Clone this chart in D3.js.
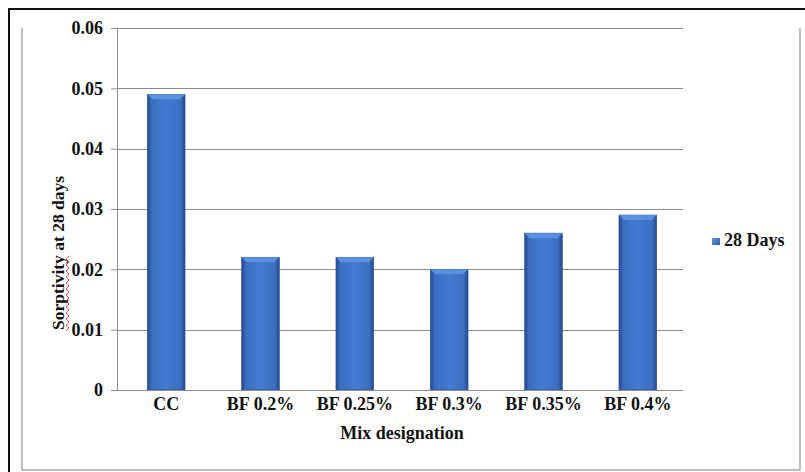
<!DOCTYPE html>
<html>
<head>
<meta charset="utf-8">
<script src="https://cdn.jsdelivr.net/npm/d3@7"></script>
<style>
  body { margin: 0; background: #fff; }
  svg { display: block; font-family: "Liberation Serif", "Times New Roman", serif; }
</style>
</head>
<body>
<div id="chart"></div>
<script>
// data
var categories = ["CC", "BF 0.2%", "BF 0.25%", "BF 0.3%", "BF 0.35%", "BF 0.4%"];
var values = [0.049, 0.022, 0.022, 0.020, 0.026, 0.029];
var yTicks = [0, 0.01, 0.02, 0.03, 0.04, 0.05, 0.06];
var seriesName = "28 Days";

var W = 805, H = 472;
var plot = {left: 119, right: 685, top: 28, bottom: 390};

var svg = d3.select("#chart").append("svg")
  .attr("width", W).attr("height", H);

var defs = svg.append("defs");
var grad = defs.append("linearGradient").attr("id", "barGrad")
  .attr("x1", "0%").attr("x2", "100%").attr("y1", "0%").attr("y2", "0%");
grad.append("stop").attr("offset", "0%").attr("stop-color", "#23498a");
grad.append("stop").attr("offset", "12%").attr("stop-color", "#3b6ec2");
grad.append("stop").attr("offset", "50%").attr("stop-color", "#447bd0");
grad.append("stop").attr("offset", "88%").attr("stop-color", "#3b6ec2");
grad.append("stop").attr("offset", "100%").attr("stop-color", "#23498a");

var legGrad = defs.append("linearGradient").attr("id", "legGrad")
  .attr("x1", "0%").attr("x2", "100%").attr("y1", "0%").attr("y2", "100%");
legGrad.append("stop").attr("offset", "0%").attr("stop-color", "#6c9be0");
legGrad.append("stop").attr("offset", "100%").attr("stop-color", "#2b58a0");

// outer frames
svg.append("path").attr("d", "M9,472 V9 H805")
  .attr("fill", "none").attr("stroke", "#111").attr("stroke-width", 2);
svg.append("path").attr("d", "M22,28 V470 H800 V28")
  .attr("fill", "none").attr("stroke", "#a8a8a8").attr("stroke-width", 1.5);

var x = d3.scaleBand().domain(categories)
  .range([plot.left, plot.right]).paddingInner(0.6).paddingOuter(0.3);
var y = d3.scaleLinear().domain([0, 0.06]).range([plot.bottom, plot.top]);

// gridlines
svg.append("g").selectAll("line").data(yTicks.slice(1)).enter().append("line")
  .attr("x1", plot.left - 2).attr("x2", plot.right - 2)
  .attr("y1", function(d) { return Math.round(y(d)) + 0.5; })
  .attr("y2", function(d) { return Math.round(y(d)) + 0.5; })
  .attr("stroke", "#8c8c8c").attr("stroke-width", 1);

// bars
var bars = svg.append("g").selectAll("g.bar").data(values).enter().append("g")
  .attr("class", "bar");
bars.append("rect")
  .attr("x", function(d, i) { return x(categories[i]); })
  .attr("y", function(d) { return y(d); })
  .attr("width", x.bandwidth())
  .attr("height", function(d) { return plot.bottom - y(d); })
  .attr("fill", "url(#barGrad)")
  .attr("stroke", "#2a4f8f").attr("stroke-width", 0.6);
// top bevel
bars.append("path")
  .attr("d", function(d, i) {
    var x0 = x(categories[i]), x1 = x0 + x.bandwidth(), y0 = y(d);
    return "M" + x0 + "," + y0 + " H" + x1 + " L" + (x1 - 5) + "," + (y0 + 5) +
      " H" + (x0 + 5) + " Z";
  })
  .attr("fill", "#5e93e0").attr("opacity", 0.9);

// y axis
var yAxis = d3.axisLeft(y).tickValues(yTicks).tickSize(6).tickPadding(8)
  .tickFormat(function(d) { return d === 0 ? "0" : d3.format(".2f")(d); });
var gy = svg.append("g").attr("transform", "translate(" + (plot.left - 2) + ",0)").call(yAxis);
gy.select(".domain").attr("stroke", "#8c8c8c");
gy.selectAll(".tick line").attr("stroke", "#8c8c8c");
gy.selectAll("text").attr("font-size", 18).attr("font-weight", "bold")
  .attr("fill", "#111").attr("font-family", "Liberation Serif, serif");

// x axis
var xAxis = d3.axisBottom(x).tickSize(0).tickPadding(7);
var gx = svg.append("g").attr("transform", "translate(0," + plot.bottom + ")").call(xAxis);
gx.select(".domain").attr("stroke", "#8c8c8c").attr("d", "M" + (plot.left - 2) + ",0.5H" + (plot.right - 2));
gx.selectAll("text").attr("font-size", 18).attr("font-weight", "bold")
  .attr("fill", "#111").attr("font-family", "Liberation Serif, serif");

// axis titles
svg.append("text").attr("x", 402).attr("y", 439).attr("text-anchor", "middle")
  .attr("font-size", 18).attr("font-weight", "bold").attr("fill", "#111")
  .text("Mix designation");

svg.append("text")
  .attr("transform", "translate(64,253) rotate(-90)")
  .attr("text-anchor", "middle")
  .attr("font-size", 17.5).attr("font-weight", "bold").attr("fill", "#111")
  .text("Sorptivity at 28 days");

// spellcheck squiggle under "Sorptivity"
var sq = "M66,331";
for (var k = 0; k < 25; k++) {
  sq += " L" + (k % 2 ? 66 : 69) + "," + (331 - (k + 1) * 3);
}
svg.append("path").attr("d", sq).attr("fill", "none")
  .attr("stroke", "#d22").attr("stroke-width", 0.8);

// legend
svg.append("rect").attr("x", 712).attr("y", 238).attr("width", 8).attr("height", 7)
  .attr("fill", "url(#legGrad)");
svg.append("text").attr("x", 724).attr("y", 246)
  .attr("font-size", 18).attr("font-weight", "bold").attr("fill", "#111")
  .text(seriesName);
</script>
</body>
</html>
